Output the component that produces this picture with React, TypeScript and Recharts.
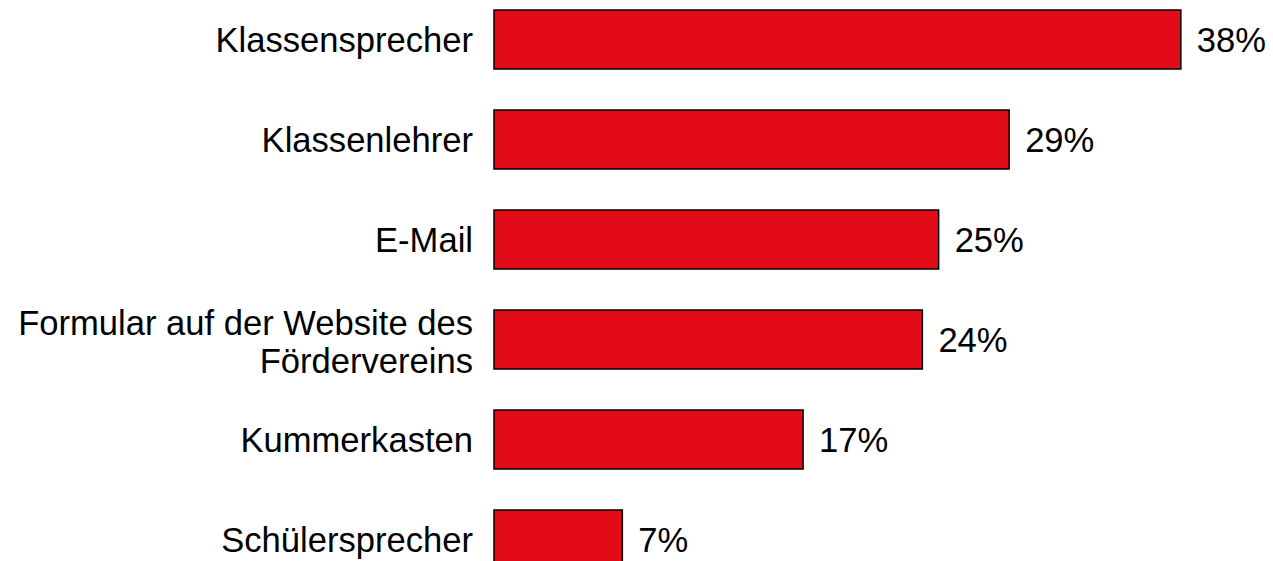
import React from "react";
import { BarChart, Bar, XAxis, YAxis, LabelList } from "recharts";

const categories = [
  "Klassensprecher",
  "Klassenlehrer",
  "E-Mail",
  "Formular auf der Website des\nFördervereins",
  "Kummerkasten",
  "Schülersprecher",
];
const values = [38, 28.5, 24.6, 23.7, 17.1, 7.1];
const valueLabels = ["38%", "29%", "25%", "24%", "17%", "7%"];

const data = categories.map((c, i) => ({ name: c, value: values[i], label: valueLabels[i] }));

const FONT = '"Liberation Sans", Arial, Helvetica, sans-serif';
const LINE_H = 38;
const FS = 34.6;

const Tick = (props: any) => {
  const { x, y, payload } = props;
  const lines = String(payload.value).split("\n");
  const first = -((lines.length - 1) / 2) * LINE_H + 13 + (lines.length > 1 ? 2 : 0);
  return (
    <text x={x} y={y} textAnchor="end" fontSize={FS} fontFamily={FONT} fill="#000">
      {lines.map((l, i) => (
        <tspan key={i} x={x} dy={i === 0 ? first : LINE_H}>
          {l}
        </tspan>
      ))}
    </text>
  );
};

export default function App() {
  return (
    <div style={{ position: "absolute", left: 0, top: 0, width: 1273, height: 561, overflow: "hidden", background: "#fff" }}>
      <div style={{ position: "absolute", left: 0, top: -11.5 }}>
        <BarChart
          width={1273}
          height={600}
          data={data}
          layout="vertical"
          margin={{ top: 0, right: 56, bottom: 0, left: 0 }}
        >
          <XAxis type="number" domain={[0, 40]} hide />
          <YAxis
            type="category"
            dataKey="name"
            width={494}
            axisLine={false}
            tickLine={false}
            tickSize={0}
            tickMargin={21}
            tick={<Tick />}
            interval={0}
          />
          <Bar
            dataKey="value"
            fill="#e20b17"
            stroke="#000"
            strokeWidth={1.5}
            barSize={59}
            isAnimationActive={false}
          >
            <LabelList
              dataKey="label"
              position="right"
              offset={16}
              fontSize={FS}
              fontFamily={FONT}
              fill="#000"
            />
          </Bar>
        </BarChart>
      </div>
    </div>
  );
}
